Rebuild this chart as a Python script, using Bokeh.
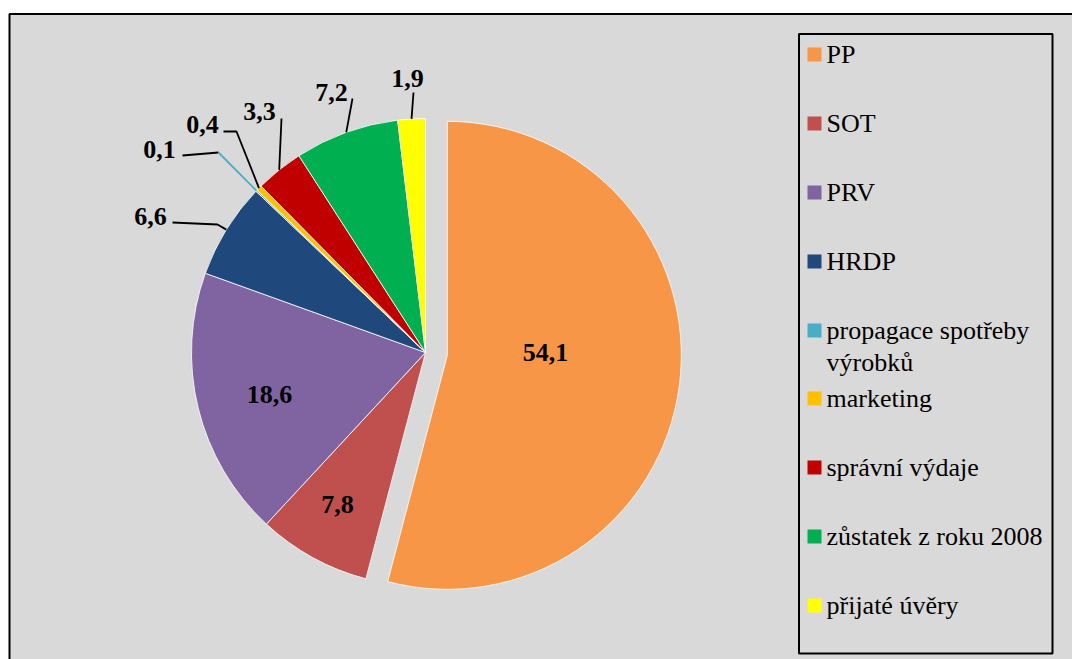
import numpy as np
from bokeh.plotting import figure
from bokeh.models import Range1d
from bokeh.core.properties import value
from bokeh.embed import file_html
from bokeh.resources import INLINE

# ---- data ----
categories = ["PP", "SOT", "PRV", "HRDP", "propagace spotřeby výrobků", "marketing",
              "správní výdaje", "zůstatek z roku 2008", "přijaté úvěry"]
values = [54.1, 7.8, 18.6, 6.6, 0.1, 0.4, 3.3, 7.2, 1.9]
colors = ["#F79646", "#C0504D", "#8064A2", "#1F497D", "#4BACC6", "#FFC000",
          "#C00000", "#00B050", "#FFFF00"]
labels = [f"{v:.1f}".replace(".", ",") for v in values]

W, H = 1072, 659
def px(x):  # picture pixel -> data x
    return x
def py(y):  # picture pixel -> data y
    return H - y

p = figure(width=W, height=H, output_backend="svg", toolbar_location=None,
           x_range=Range1d(0, W), y_range=Range1d(0, H), min_border=0)
p.axis.visible = False
p.grid.visible = False
p.outline_line_color = None
p.background_fill_color = "white"
p.border_fill_color = "white"

# chart area background + border
p.quad(left=[px(9)], right=[W + 50], bottom=[-50], top=[py(13.5)],
       fill_color="#D9D9D9", line_color="black", line_width=2)

# ---- pie ----
CX, CY, R = px(425), py(352), 234
explode = [22, 0, 0, 0, 0, 0, 0, 0, 0]
frac = np.array(values) / sum(values)
cum = np.concatenate([[0], np.cumsum(frac)])
th0 = 2 * np.pi * cum[:-1]
th1 = 2 * np.pi * cum[1:]
mid = (th0 + th1) / 2
cxs = CX + np.array(explode) * np.sin(mid)
cys = CY + np.array(explode) * np.cos(mid)
p.wedge(x=cxs, y=cys, radius=R, start_angle=np.pi / 2 - th1, end_angle=np.pi / 2 - th0,
        fill_color=colors, line_color="white", line_width=1.0, line_alpha=0.8)

# ---- data labels ----
font = value("Liberation Serif")
label_pos = {0: (545, 352), 1: (337, 504), 2: (269, 394),
             3: (150, 216), 4: (159, 149), 5: (202, 124), 6: (259, 111),
             7: (331, 92), 8: (407, 78)}
leader_knees = {3: [(172, 222), (217, 224)], 4: [(182, 155), (218, 152)],
                5: [(223, 131), (236, 131)], 6: [(281, 118)], 7: [(352, 98)],
                8: [(413, 92)]}
lx, ly, lc = [], [], []
for i, knees in leader_knees.items():
    ex = cxs[i] + R * np.sin(mid[i])
    ey = cys[i] + R * np.cos(mid[i])
    pts_x = [px(k[0]) for k in knees] + [ex]
    pts_y = [py(k[1]) for k in knees] + [ey]
    if i == 4:
        lx.append(pts_x[:2]); ly.append(pts_y[:2]); lc.append("black")
        lx.append(pts_x[1:]); ly.append(pts_y[1:]); lc.append(colors[4])
    else:
        lx.append(pts_x); ly.append(pts_y); lc.append("black")
p.multi_line(xs=lx, ys=ly, line_color=lc, line_width=1.8)

idx = sorted(label_pos)
p.text(x=[px(label_pos[i][0]) for i in idx], y=[py(label_pos[i][1]) for i in idx],
       text=[labels[i] for i in idx], text_font=font, text_font_style="bold",
       text_font_size="26px", text_align="center", text_baseline="middle",
       text_color="black")

# ---- legend ----
p.quad(left=[px(798.5)], right=[px(1052)], bottom=[py(653)], top=[py(33.5)],
       fill_alpha=0, line_color="black", line_width=2)
leg_y = [54, 123, 192, 261, 330, 398, 467, 536, 605]
p.rect(x=[px(814)] * len(categories), y=[py(v) for v in leg_y], width=14, height=14,
       fill_color=colors, line_color=None)
leg_text = list(categories)
leg_text[4] = "propagace spotřeby"
tx = [px(826)] * len(categories) + [px(826)]
ty = [py(v) for v in leg_y] + [py(362)]
tt = leg_text + ["výrobků"]
p.text(x=tx, y=ty, text=tt, text_font=font, text_font_size="26px",
       text_align="left", text_baseline="middle", text_color="black")

open("out.html", "w").write(file_html(p, INLINE))
